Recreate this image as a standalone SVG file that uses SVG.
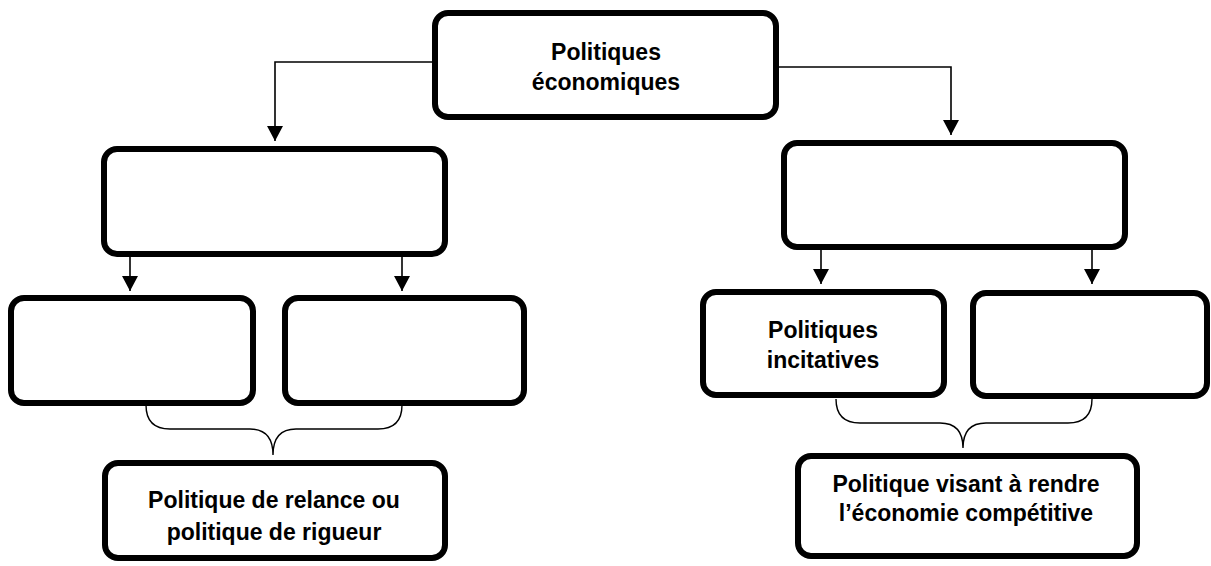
<svg xmlns="http://www.w3.org/2000/svg" width="1211" height="566" viewBox="0 0 1211 566">
<style>
.box{fill:#fff;stroke:#000;stroke-width:6}
.ln{fill:none;stroke:#000;stroke-width:1.6}
.br{fill:none;stroke:#000;stroke-width:1.4}
.t{font-family:"Liberation Sans",Arial,sans-serif;font-weight:bold;font-size:23px;text-anchor:middle;fill:#000}
</style>
<defs>
<marker id="ah" markerUnits="userSpaceOnUse" markerWidth="15" markerHeight="16" refX="15" refY="8" orient="auto">
<path d="M0,0 L15,8 L0,16 z" fill="#000"/>
</marker>
</defs>
<rect width="1211" height="566" fill="#fff"/>
<g id="connectors">
<polyline class="ln" points="432,62 275,62 275,141" marker-end="url(#ah)"/>
<polyline class="ln" points="779,67 951,67 951,135" marker-end="url(#ah)"/>
<line class="ln" x1="130" y1="257" x2="130" y2="291" marker-end="url(#ah)"/>
<line class="ln" x1="402" y1="257" x2="402" y2="291" marker-end="url(#ah)"/>
<line class="ln" x1="821" y1="250" x2="821" y2="284" marker-end="url(#ah)"/>
<line class="ln" x1="1092" y1="250" x2="1092" y2="284" marker-end="url(#ah)"/>
<path class="br" d="M146,405 Q146,429 170,429 L250,429 Q273,429 273,455 Q273,429 296,429 L378,429 Q402,429 402,405"/>
<path class="br" d="M836,399 Q836,423 860,423 L940,423 Q963,423 963,448 Q963,423 986,423 L1068,423 Q1092,423 1092,399"/>
</g>
<g id="node-top">
<rect class="box" x="435" y="13" width="341" height="104" rx="13"/>
<text class="t" x="606" y="60">Politiques</text>
<text class="t" x="606" y="90">économiques</text>
</g>
<g id="node-mid-left">
<rect class="box" x="104" y="149" width="341" height="105" rx="13"/>
</g>
<g id="node-mid-right">
<rect class="box" x="784" y="143" width="341" height="104" rx="13"/>
</g>
<g id="node-bl1">
<rect class="box" x="11" y="298" width="242" height="105" rx="13"/>
</g>
<g id="node-bl2">
<rect class="box" x="285" y="298" width="239" height="105" rx="13"/>
</g>
<g id="node-br1">
<rect class="box" x="703" y="292" width="241" height="103" rx="13"/>
<text class="t" x="823" y="338">Politiques</text>
<text class="t" x="823" y="368">incitatives</text>
</g>
<g id="node-br2">
<rect class="box" x="973" y="293" width="234" height="103" rx="13"/>
</g>
<g id="node-bottom-left">
<rect class="box" x="105" y="463" width="340" height="95" rx="13"/>
<text class="t" x="274" y="508">Politique de relance ou</text>
<text class="t" x="274" y="540">politique de rigueur</text>
</g>
<g id="node-bottom-right">
<rect class="box" x="798" y="456" width="339" height="100" rx="13"/>
<text class="t" x="966" y="492">Politique visant à rendre</text>
<text class="t" x="966" y="521">l’économie compétitive</text>
</g>
</svg>
